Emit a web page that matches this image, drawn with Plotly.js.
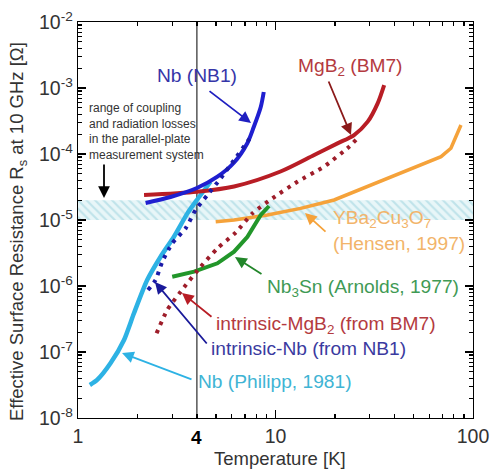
<!DOCTYPE html>
<html><head><meta charset="utf-8">
<script src="https://cdn.plot.ly/plotly-3.0.1.min.js"></script>
<style>html,body{margin:0;padding:0;background:#fff}#chart{width:492px;height:469px}</style>
</head><body><div id="chart"></div>
<script>
// ---- data (temperature in K, surface resistance in Ohm) ----
const nbNB1_T = [2.20, 2.94, 4.0, 5.08, 6.14, 7.21, 7.76, 8.42, 8.72];
const nbNB1_R = [1.81e-5, 2.23e-5, 3.05e-5, 4.53e-5, 7.3e-5, 1.47e-4, 2.56e-4, 5.15e-4, 8.7e-4];
const intrNb_T = [2.26, 2.47, 2.67, 3.00, 3.51, 3.94, 4.52, 5.28, 6.17, 7.21, 7.64];
const intrNb_R = [8.7e-7, 1.23e-6, 2.33e-6, 4.44e-6, 7.5e-6, 1.42e-5, 2.39e-5, 4.28e-5, 8.1e-5, 1.54e-4, 1.94e-4];
const philipp_T = [1.148, 1.25, 1.46, 1.71, 1.92, 2.24, 2.62, 3.06, 3.58, 4.0, 4.69];
const philipp_R = [3.16e-8, 3.77e-8, 6.74e-8, 1.52e-7, 3.86e-7, 1.23e-6, 2.78e-6, 5.58e-6, 1.26e-5, 2.01e-5, 3.8e-5];
const mgb2_T = [2.16, 4.0, 6.17, 10.6, 15.7, 20.6, 25.0, 29.3, 32.9, 35.5];
const mgb2_R = [2.39e-5, 2.68e-5, 3.22e-5, 5.43e-5, 9.66e-5, 1.45e-4, 1.94e-4, 3.09e-4, 5.86e-4, 1.11e-3];
const intrMgB2_T = [2.50, 2.83, 3.31, 4.18, 5.08, 6.29, 7.64, 9.65, 12.9, 17.6, 23.6, 26.0];
const intrMgB2_R = [1.92e-7, 4.33e-7, 8.2e-7, 1.96e-6, 3.72e-6, 6.47e-6, 1.26e-5, 2.13e-5, 3.8e-5, 6.43e-5, 1.29e-4, 1.73e-4];
const ybco_T = [4.98, 6.17, 9.10, 13.4, 19.8, 29.3, 43.2, 68.9, 77.3, 83.6, 86.9];
const ybco_R = [9.42e-6, 1.0e-5, 1.19e-5, 1.50e-5, 2.01e-5, 3.2e-5, 5.1e-5, 9.1e-5, 1.22e-4, 2.06e-4, 2.75e-4];
const nb3sn_T = [3.00, 3.87, 5.08, 6.17, 7.21, 8.42, 9.28];
const nb3sn_R = [1.38e-6, 1.65e-6, 2.21e-6, 3.31e-6, 5.58e-6, 1.19e-5, 1.63e-5];
const band_T = [1, 100];
const band_R = [1e-5, 2e-5];
const mark_T = 4;
const xTickVals = [1, 10, 100];
const xTickText = ['1', '10', '100'];
const yTickVals = [1e-8, 1e-7, 1e-6, 1e-5, 1e-4, 1e-3, 1e-2];
const yTickText = ['10<sup>-8</sup>', '10<sup>-7</sup>', '10<sup>-6</sup>', '10<sup>-5</sup>', '10<sup>-4</sup>', '10<sup>-3</sup>', '10<sup>-2</sup>'];
const yRange = [1e-8, 1e-2];

// ---- styling ----
const FONT = 'Arial, "Liberation Sans", sans-serif';
const L = 78, R = 19, T = 22, B = 51, W = 492, H = 469;
const PW = W - L - R, PH = H - T - B;
const px = x => (x - L) / PW;
const py = y => (H - B - y) / PH;

const traces = [
  {x: [band_T[0], band_T[1], band_T[1], band_T[0], band_T[0]],
   y: [band_R[0], band_R[0], band_R[1], band_R[1], band_R[0]],
   mode: 'lines', fill: 'toself', line: {width: 0, color: 'rgba(0,0,0,0)'},
   fillcolor: '#e8f6f8',
   fillpattern: {shape: '\\', bgcolor: '#e8f6f8', fgcolor: '#bfe3ea', size: 6, solidity: 0.35},
   hoverinfo: 'skip'},
  {x: [mark_T, mark_T], y: yRange, mode: 'lines', line: {color: '#000', width: 1}},
  {x: philipp_T, y: philipp_R, mode: 'lines', line: {color: '#2db2e4', width: 4.5, shape: 'spline', smoothing: 0.6}},
  {x: ybco_T, y: ybco_R, mode: 'lines', line: {color: '#f5a23a', width: 3.5}},
  {x: nb3sn_T, y: nb3sn_R, mode: 'lines', line: {color: '#22962a', width: 4}},
  {x: mgb2_T, y: mgb2_R, mode: 'lines', line: {color: '#b81d25', width: 4, shape: 'spline', smoothing: 0.8}},
  {x: nbNB1_T, y: nbNB1_R, mode: 'lines', line: {color: '#1f1fd0', width: 4, shape: 'spline', smoothing: 0.8}},
  {x: intrMgB2_T, y: intrMgB2_R, mode: 'lines', line: {color: '#9e1d2a', width: 4, dash: '3.5px,5.5px', shape: 'spline', smoothing: 0.6}},
  {x: intrNb_T, y: intrNb_R, mode: 'lines', line: {color: '#1a1aa8', width: 4, dash: '3.5px,5.5px', shape: 'spline', smoothing: 0.6}}
];

function label(text, x, y, color, size, xanchor) {
  return {text: text, xref: 'paper', yref: 'paper', x: px(x), y: py(y),
    xanchor: xanchor || 'left', yanchor: 'middle', showarrow: false,
    font: {family: FONT, size: size || 19.2, color: color}};
}
function arrow(tx, ty, hx, hy, color) {
  return {text: '', xref: 'paper', yref: 'paper', x: px(hx), y: py(hy),
    axref: 'pixel', ayref: 'pixel', ax: tx - hx, ay: ty - hy,
    showarrow: true, arrowhead: 2, arrowsize: 1.3, arrowwidth: 1.8, arrowcolor: color, standoff: 0};
}

const annotations = [
  label('Nb (NB1)', 155, 75, '#3535a8'),
  label('MgB<sub>2</sub> (BM7)', 296, 67, '#b43a40'),
  label('YBa<sub>2</sub>Cu<sub>3</sub>O<sub>7</sub>', 331, 219, '#f2b46a'),
  label('(Hensen, 1997)', 467, 243, '#f2b46a', 19.2, 'right'),
  label('Nb<sub>3</sub>Sn (Arnolds, 1977)', 265, 288, '#3f9a55'),
  label('intrinsic-MgB<sub>2</sub> (from BM7)', 214, 325, '#b43a40'),
  label('intrinsic-Nb (from NB1)', 209, 348, '#3a3aa0'),
  label('Nb (Philipp, 1981)', 196, 381, '#40b4d4'),
  {text: 'range of coupling<br>and radiation losses<br>in the parallel-plate<br>measurement system',
   xref: 'paper', yref: 'paper', x: px(87), y: py(99), xanchor: 'left', yanchor: 'top', align: 'left',
   showarrow: false, font: {family: FONT, size: 12, color: '#333'}},
  arrow(208, 90, 251, 123, '#1f1fc0'),
  arrow(328, 80, 351, 135, '#8b1a1a'),
  arrow(104, 163, 104, 198, '#000'),
  arrow(327, 233, 305, 213, '#f5a23a'),
  arrow(263, 275, 235, 257, '#22862a'),
  arrow(213, 318, 182, 293, '#b81d25'),
  arrow(208, 345, 155, 282, '#1a1a9a'),
  arrow(193, 380, 122, 353, '#2db2e4'),
  {text: '<b>4</b>', xref: 'paper', yref: 'paper', x: px(196), y: py(437), xanchor: 'center', yanchor: 'middle',
   showarrow: false, font: {family: FONT, size: 19, color: '#000'}},
  {text: 'Temperature [K]', xref: 'paper', yref: 'paper', x: px(280), y: py(458), xanchor: 'center', yanchor: 'middle',
   showarrow: false, font: {family: FONT, size: 18.5, color: '#333'}},
  {text: 'Effective Surface Resistance R<sub>s</sub> at 10 GHz [Ω]', xref: 'paper', yref: 'paper',
   x: px(18), y: py(232), xanchor: 'center', yanchor: 'middle', textangle: -90,
   showarrow: false, font: {family: FONT, size: 18.5, color: '#333'}}
];

const minor = {ticks: 'inside', ticklen: 4, tickwidth: 1.2, tickcolor: '#000', dtick: 'D1', showgrid: false};
const layout = {
  width: W, height: H, margin: {l: L, r: R, t: T, b: B},
  showlegend: false,
  xaxis: {type: 'log', range: [0, 2], showline: true, linecolor: '#000', linewidth: 1.3, mirror: 'allticks',
    ticks: 'inside', ticklen: 8, tickwidth: 1.2, tickcolor: '#000', showgrid: false, zeroline: false,
    tickmode: 'array', tickvals: xTickVals, ticktext: xTickText,
    tickfont: {family: FONT, size: 19.5, color: '#333'}, minor: minor},
  yaxis: {type: 'log', range: [-8, -2], showline: true, linecolor: '#000', linewidth: 1.3, mirror: 'allticks',
    ticks: 'inside', ticklen: 8, tickwidth: 1.2, tickcolor: '#000', showgrid: false, zeroline: false,
    tickmode: 'array', tickvals: yTickVals, ticktext: yTickText,
    tickfont: {family: FONT, size: 19.5, color: '#333'}, minor: minor},
  annotations: annotations
};

Plotly.newPlot('chart', traces, layout, {staticPlot: true, displayModeBar: false});
</script>
</body></html>
